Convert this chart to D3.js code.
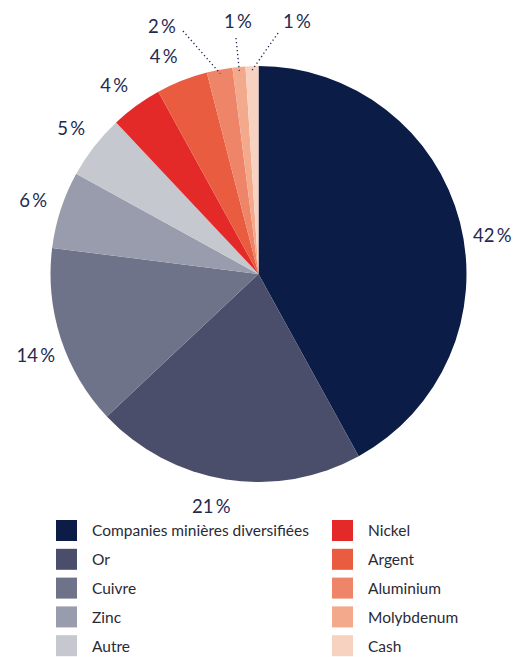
<!DOCTYPE html>
<html><head><meta charset="utf-8">
<script src="https://cdn.jsdelivr.net/npm/d3@7"></script>
<style>body{margin:0;background:#fff}svg{display:block}</style>
</head><body>
<svg id="c" width="531" height="657"></svg>
<script>
const categories = ["Companies minières diversifiées","Or","Cuivre","Zinc","Autre","Nickel","Argent","Aluminium","Molybdenum","Cash"];
const values = [42,21,14,6,5,4,4,2,1,1];
const colors = ["#0b1c47","#4a4e6a","#6e7389","#999cac","#c6c8d0","#e42a28","#e95c40","#ee8468","#f3a98c","#f8d2c0"];
const labelAngleShift = {0:5, 1:2.5, 2:-2, 5:-1.5, 6:-2};
const leaderLabels = {7:[162,27], 8:[238,22], 9:[297,22]};
const leaderStarts = {7:[183,31], 8:[236,38], 9:[278,33]};

const svg = d3.select("#c");
const cx = 258.5, cy = 274, R = 208;
const pie = d3.pie().sort(null).value(d=>d)(values);
const arc = d3.arc().innerRadius(0).outerRadius(R);
const g = svg.append("g").attr("transform",`translate(${cx},${cy})`);
g.selectAll("path").data(pie).join("path").attr("d",arc).attr("fill",(d,i)=>colors[i]);

const labColor = "#1e2a50";
const fontFam = "Lato, 'Open Sans', sans-serif";
const inner = d3.arc().innerRadius(204).outerRadius(204);
const LR = 237;
pie.forEach((d,i)=>{
  const txt = values[i] + "\u2009%";
  let x,y;
  if(leaderLabels[i]){
    [x,y] = leaderLabels[i];
    const p = inner.centroid(d);
    svg.append("line").attr("x1",leaderStarts[i][0]).attr("y1",leaderStarts[i][1])
      .attr("x2",cx+p[0]).attr("y2",cy+p[1])
      .attr("stroke",labColor).attr("stroke-width",1.3).attr("stroke-dasharray","1.3,2.7");
  } else {
    const a = (d.startAngle+d.endAngle)/2 + (labelAngleShift[i]||0)*Math.PI/180;
    x = cx + LR*Math.sin(a); y = cy - LR*Math.cos(a);
  }
  svg.append("text").attr("x",x).attr("y",y).attr("dy","0.35em").attr("text-anchor","middle")
    .attr("font-family",fontFam).attr("font-size",18.5).attr("fill",labColor).text(txt);
});

const leg = svg.append("g");
categories.forEach((c,i)=>{
  const col = Math.floor(i/5), row = i%5;
  const x = col===0?56:332, y = 520 + row*28.8;
  leg.append("rect").attr("x",x).attr("y",y).attr("width",21).attr("height",21).attr("fill",colors[i]);
  leg.append("text").attr("x",x+36).attr("y",y+11).attr("dy","0.35em")
    .attr("font-family",fontFam).attr("font-size",15.5).attr("fill","#2a2a35").text(c);
});
</script>
</body></html>
